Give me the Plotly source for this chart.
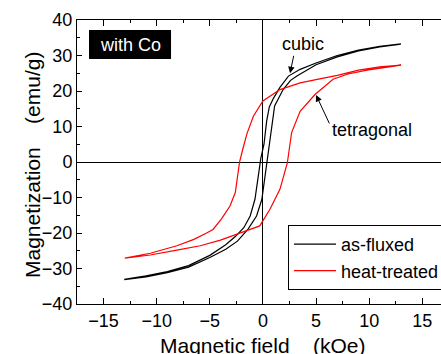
import plotly.graph_objects as go

# As-fluxed (cubic) loop, black
black_desc_H = [13, 11, 9, 7, 5, 3.5, 2.4, 1.6, 1.0, 0.6, 0.35, 0.1, -0.2, -0.45, -0.75, -1.2, -1.8, -2.6, -3.5, -5, -7, -9, -11, -13]
black_desc_M = [33.3, 32.6, 31.5, 30.0, 27.9, 26.1, 24.2, 21.0, 18.0, 15.5, 11.5, 5.0, 1.0, -4.5, -10.5, -15.2, -18.5, -21.0, -23.3, -26.3, -29.2, -30.9, -32.1, -33.0]
black_asc_H = [-13, -11, -9, -7, -5, -3.5, -2.4, -1.4, -0.6, -0.1, 0.2, 0.45, 0.75, 1.1, 1.9, 2.6, 3.2, 5, 7, 9, 11, 13]
black_asc_M = [-33.1, -32.4, -31.2, -29.6, -26.9, -24.6, -22.3, -18.9, -15.2, -10.5, -3.9, 1.5, 8.3, 15.8, 20.4, 23.0, 24.2, 27.4, 29.6, 31.3, 32.4, 33.2]

# Heat-treated (tetragonal) loop, red
red_desc_H = [13, 11, 9, 7, 5, 3.5, 1.6, 0.66, 0, -0.9, -1.5, -1.9, -2.2, -2.6, -3.1, -3.9, -4.7, -5.3, -6.5, -8.1, -10.6, -13]
red_desc_M = [27.3, 26.8, 25.9, 24.4, 23.2, 22.3, 20.4, 18.6, 17.2, 12.9, 8.0, 3.6, 0, -8.6, -12.4, -16.0, -19.0, -20.0, -21.8, -23.6, -25.7, -27.1]
red_asc_H = [-13, -10.6, -8.1, -5.9, -4, -2.2, -0.3, 0.66, 1.6, 2.3, 2.7, 3.5, 4.9, 6.6, 8, 9.8, 11.5, 13]
red_asc_M = [-27.1, -26.2, -24.8, -23.6, -22.0, -20.1, -18.0, -13.3, -7.7, -0.2, 8.3, 14.3, 19.0, 23.3, 24.8, 25.9, 26.7, 27.3]

series_names = ["as-fluxed", "heat-treated"]
x_tickvals = [-15, -10, -5, 0, 5, 10, 15]
y_tickvals = [-40, -30, -20, -10, 0, 10, 20, 30, 40]

FONT = "Arial, Liberation Sans, sans-serif"

# plot area at x 77..441, y 20..304 (body margin removed via post_script)
L, T, PW, PH = 77, 20, 364, 284

fig = go.Figure()
fig.add_trace(go.Scatter(x=black_desc_H + black_asc_H, y=black_desc_M + black_asc_M,
                         mode="lines", line=dict(color="black", width=1.2), name=series_names[0]))
fig.add_trace(go.Scatter(x=red_desc_H + red_asc_H, y=red_desc_M + red_asc_M,
                         mode="lines", line=dict(color="red", width=1.2), name=series_names[1]))

axis_common = dict(showline=True, linecolor="black", linewidth=1, ticks="inside",
                   tickcolor="black", showgrid=False, zeroline=True, zerolinecolor="black",
                   zerolinewidth=1, tickfont=dict(family=FONT, size=18, color="black"))

fig.update_xaxes(range=[-17.5, 16.76], tickvals=x_tickvals, ticklen=6, mirror="allticks",
                 minor=dict(dtick=2.5, ticks="inside", ticklen=3, tickcolor="black", tick0=0),
                 **axis_common)
fig.update_yaxes(range=[-40, 40], tickvals=y_tickvals, ticklen=5, mirror=False,
                 minor=dict(dtick=5, ticks="inside", ticklen=3, tickcolor="black", tick0=0),
                 **axis_common)

fig.add_shape(type="rect", xref="x", yref="y", x0=-16.37, x1=-8.65, y0=29.0, y1=37.2,
              fillcolor="black", line=dict(width=0))

annotations = [
    dict(x=-12.5, y=33.1, text="with Co", showarrow=False, font=dict(family=FONT, size=18, color="white")),
    dict(x=3.78, y=33.2, text="cubic", showarrow=False, font=dict(family=FONT, size=18, color="black")),
    dict(x=10.27, y=9.0, text="tetragonal", showarrow=False, font=dict(family=FONT, size=18, color="black")),
    dict(x=2.55, y=25.0, text="", showarrow=True, ax=4, ay=-19, arrowhead=2, arrowsize=1.3,
         arrowwidth=1, arrowcolor="black", standoff=0),
    dict(x=5.0, y=18.9, text="", showarrow=True, ax=14, ay=30, arrowhead=2, arrowsize=1.3,
         arrowwidth=1, arrowcolor="black", standoff=0),
    dict(xref="paper", yref="paper", x=(262.5 - 77) / PW, y=-(345 - 304) / PH, text="Magnetic field    (kOe)",
         showarrow=False, yanchor="middle", font=dict(family=FONT, size=21, color="black")),
    dict(xref="paper", yref="paper", x=(32 - 77) / PW, y=(304 - 165) / PH, text="Magnetization    (emu/g)",
         textangle=-90, showarrow=False, xanchor="center", font=dict(family=FONT, size=21, color="black")),
]
for a in annotations:
    fig.add_annotation(**a)

fig.update_layout(
    width=441, height=354,
    margin=dict(l=L, r=441 - L - PW, t=T, b=354 - T - PH, autoexpand=False),
    plot_bgcolor="white", paper_bgcolor="white",
    showlegend=True,
    legend=dict(x=(288 - 77) / PW, y=(304 - 225) / PH, xanchor="left", yanchor="top",
                bgcolor="white", bordercolor="black", borderwidth=1, itemwidth=42,
                font=dict(family=FONT, size=18, color="black"), tracegroupgap=0),
)

fig.write_html("out.html", config={"displayModeBar": False},
               post_script="document.body.style.margin='0';document.body.style.overflow='hidden';")
